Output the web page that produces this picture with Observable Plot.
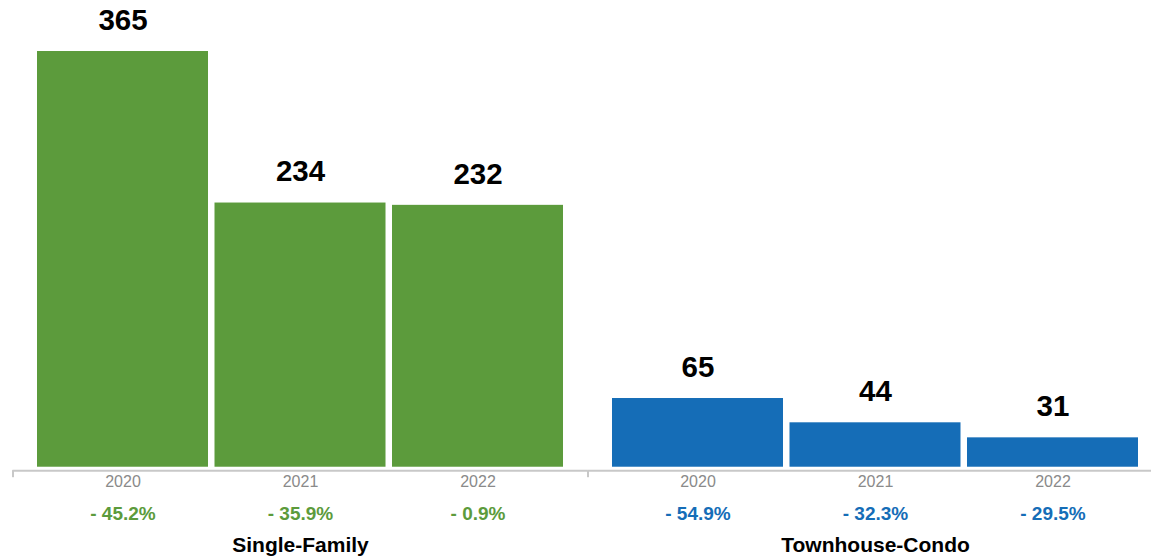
<!DOCTYPE html>
<html>
<head>
<meta charset="utf-8">
<script src="https://cdn.jsdelivr.net/npm/d3@7"></script>
<script src="https://cdn.jsdelivr.net/npm/@observablehq/plot@0.6"></script>
<style>
  html, body { margin: 0; padding: 0; background: #fff; }
  #chart { width: 1151px; height: 556px; }
</style>
</head>
<body>
<div id="chart"></div>
<script>
const groups = ["Single-Family", "Townhouse-Condo"];
const years = ["2020", "2021", "2022"];
const singleFamily = [365, 234, 232];
const townhouseCondo = [65, 44, 31];
const singleFamilyChange = [-45.2, -35.9, -0.9];
const townhouseCondoChange = [-54.9, -32.3, -29.5];
const groupColors = ["#5c9b3c", "#156db7"];

const seriesValues = [singleFamily, townhouseCondo];
const seriesChange = [singleFamilyChange, townhouseCondoChange];
const rows = groups.flatMap((g, gi) => years.map((y, yi) => ({
  group: g, year: y, value: seriesValues[gi][yi], change: seriesChange[gi][yi]
})));
const fmtChange = v => `- ${Math.abs(v).toFixed(1)}%`;

const plot = Plot.plot({
  width: 1151,
  height: 556,
  marginTop: 51,
  marginBottom: 82.8,
  marginLeft: 37,
  marginRight: 13,
  style: {fontFamily: "'Liberation Sans', Arial, Helvetica, sans-serif", fontSize: "16px", color: "#8a8a8a", background: "#fff"},
  fx: {domain: groups, axis: null, paddingInner: 0.0852, paddingOuter: 0, round: false},
  x: {domain: years, paddingInner: 0.0366, paddingOuter: 0, round: false, tickSize: 0, tickPadding: 2, label: null},
  y: {domain: [0, 365], nice: false, axis: null},
  color: {domain: groups, range: groupColors},
  marks: [
    Plot.barY(rows, {fx: "group", x: "year", y1: 5.6, y2: "value", fill: "group"}),
    Plot.ruleY(groups, {fx: d => d, y: 0, dy: -3, insetLeft: -24.5, insetRight: -24.5, stroke: "#c8c8c8", strokeWidth: 2}),
    Plot.ruleX(groups, {fx: d => d, x: () => years[0], y1: 0, y2: 0, dx: -110, dy: -3, insetBottom: -7, stroke: "#c8c8c8", strokeWidth: 2}),
    Plot.text(rows, {fx: "group", x: "year", y: "value", text: d => String(d.value), dy: -31, fontSize: 29.5, fontWeight: "bold", fill: "#000"}),
    Plot.text(rows, {fx: "group", x: "year", text: d => fmtChange(d.change), frameAnchor: "bottom", dy: 46, fontSize: 19, fontWeight: "bold", fill: "group"}),
    Plot.text(groups, {fx: d => d, text: d => d, frameAnchor: "bottom", dy: 78, fontSize: 21, fontWeight: "bold", fill: "#000"})
  ]
});
document.getElementById("chart").appendChild(plot);
</script>
</body>
</html>
